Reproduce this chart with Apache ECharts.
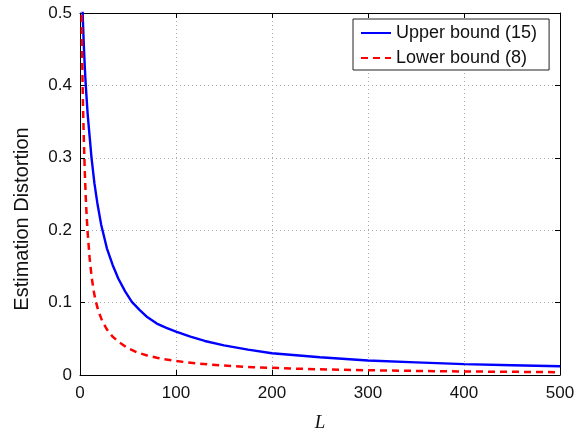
<!DOCTYPE html>
<html>
<head>
<meta charset="utf-8">
<script src="https://cdn.jsdelivr.net/npm/echarts@6/dist/echarts.min.js"></script>
<style>
  html, body { margin: 0; padding: 0; background: #fff; }
  #chart { width: 584px; height: 432px; }
</style>
</head>
<body>
<div id="chart"></div>
<script>
// values
const upperL = [2, 3, 4, 5, 6, 7, 8, 10, 12, 15, 18, 22, 28, 34, 40, 47, 54, 62, 70, 80, 90, 100, 115, 130, 150, 175, 200, 250, 300, 350, 400, 450, 500]
const upperVals = [0.54, 0.49, 0.455, 0.425, 0.40, 0.38, 0.36, 0.33, 0.30, 0.265, 0.238, 0.208, 0.175, 0.152, 0.133, 0.1155, 0.101, 0.09, 0.08, 0.071, 0.065, 0.060, 0.053, 0.047, 0.041, 0.035, 0.030, 0.0245, 0.020, 0.0175, 0.015, 0.0135, 0.012]

const lowerL = [1, 2, 3, 4, 5, 6, 7, 8, 10, 12, 14, 16, 19, 23, 28, 34, 40, 50, 60, 70, 80, 90, 100, 120, 150, 180, 220, 260, 300, 350, 400, 450, 500]
const lowerVals = [0.58, 0.46, 0.38, 0.325, 0.28, 0.245, 0.218, 0.196, 0.162, 0.137, 0.118, 0.104, 0.089, 0.075, 0.063, 0.053, 0.046, 0.037, 0.031, 0.027, 0.0238, 0.0213, 0.0193, 0.0162, 0.013, 0.0108, 0.0089, 0.0075, 0.0066, 0.0056, 0.0049, 0.0044, 0.0039]

const xTicks = { min: 0, max: 500, interval: 100 }
const yTicks = { min: 0, max: 0.5, interval: 0.1 }

const chart = echarts.init(document.getElementById('chart'), null, { renderer: 'canvas' })

const font = 'Liberation Sans, Arial, sans-serif'
const frame = { show: true, onZero: false, lineStyle: { color: '#000', width: 1 } }
const inTick = { show: true, inside: true, length: 5, lineStyle: { color: '#000' } }
const dotted = { show: true, lineStyle: { color: '#aaa', type: [1, 3], width: 1 } }

const option = {
  animation: false,
  backgroundColor: '#fff',
  grid: { left: 80, right: 24, top: 13, bottom: 57, containLabel: false, outerBoundsMode: 'none' },
  legend: {
    orient: 'vertical',
    left: 353,
    top: 19,
    backgroundColor: '#fff',
    borderColor: '#222',
    borderWidth: 1,
    borderRadius: 0,
    padding: [5, 12, 3, 7],
    itemWidth: 30,
    itemHeight: 18,
    itemGap: 7,
    itemStyle: { opacity: 0 },
    textStyle: { fontFamily: font, fontSize: 18, color: '#111', lineHeight: 18 },
    data: ['Upper bound (15)', 'Lower bound (8)']
  },
  xAxis: [
    {
      type: 'value', ...xTicks,
      name: 'L', nameLocation: 'middle', nameGap: 38, nameMoveOverlap: false,
      nameTextStyle: { fontFamily: 'Liberation Serif, Times New Roman, serif', fontStyle: 'italic', fontSize: 19, color: '#111' },
      axisLine: frame, axisTick: inTick, splitLine: dotted,
      axisLabel: { fontFamily: font, fontSize: 17, color: '#111', margin: 10 }
    },
    {
      type: 'value', ...xTicks, position: 'top',
      axisLine: frame, axisTick: inTick, splitLine: { show: false }, axisLabel: { show: false }
    }
  ],
  yAxis: [
    {
      type: 'value', ...yTicks,
      name: 'Estimation Distortion', nameLocation: 'middle', nameGap: 48, nameMoveOverlap: false,
      nameTextStyle: { fontFamily: font, fontSize: 20, color: '#111', padding: [0, 50, 0, 0] },
      axisLine: frame, axisTick: inTick, splitLine: dotted,
      axisLabel: { fontFamily: font, fontSize: 17, color: '#111', margin: 8 }
    },
    {
      type: 'value', ...yTicks, position: 'right',
      axisLine: frame, axisTick: inTick, splitLine: { show: false }, axisLabel: { show: false }
    }
  ],
  series: [
    {
      name: 'Upper bound (15)',
      type: 'line',
      data: upperL.map((l, i) => [l, upperVals[i]]),
      symbol: 'none',
      clip: true,
      lineStyle: { color: '#0000ff', width: 2.4 },
      itemStyle: { color: '#0000ff' }
    },
    {
      name: 'Lower bound (8)',
      type: 'line',
      data: lowerL.map((l, i) => [l, lowerVals[i]]),
      symbol: 'none',
      clip: true,
      lineStyle: { color: '#ff0000', width: 2.5, type: [7, 5] },
      itemStyle: { color: '#ff0000' }
    }
  ]
}

chart.setOption(option)
</script>
</body>
</html>
